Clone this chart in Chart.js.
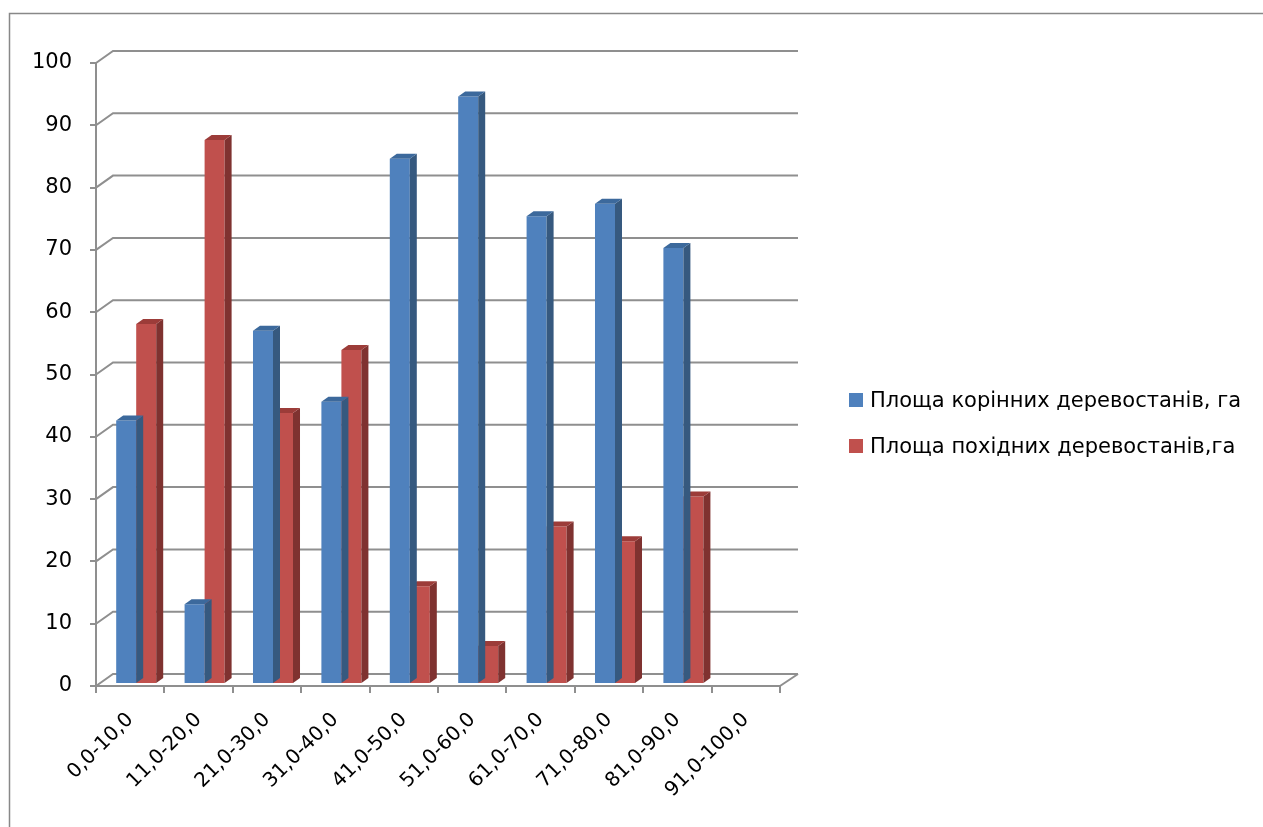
<!DOCTYPE html>
<html lang="uk">
<head>
<meta charset="UTF-8">
<title>Площа деревостанів</title>
<script src="https://cdn.jsdelivr.net/npm/chart.js"></script>
<style>
    body { margin: 0; background: #fff; }
    #wrap { position: relative; width: 1263px; height: 827px; }
    #legend { position: absolute; left: 849px; top: 386px; font-family: 'DejaVu Sans', sans-serif; font-size: 21px; color: #000; }
    #legend .item { display: flex; align-items: center; height: 28px; margin-bottom: 18px; white-space: nowrap; }
    #legend .box { width: 14px; height: 14px; margin-right: 7px; flex: none; }
</style>
</head>
<body>
<div id="wrap">
    <canvas id="areaChart" width="1263" height="827"></canvas>
    <div id="legend"></div>
</div>
<script>
// values
const categories = ['0,0-10,0', '11,0-20,0', '21,0-30,0', '31,0-40,0', '41,0-50,0',
                    '51,0-60,0', '61,0-70,0', '71,0-80,0', '81,0-90,0', '91,0-100,0'];
const rootArea = [42.3, 12.8, 56.7, 45.3, 84.3, 94.3, 75.1, 77.1, 70.0, null];
const derivedArea = [57.8, 87.3, 43.5, 53.6, 15.7, 6.1, 25.3, 22.9, 30.1, null];
const seriesNames = ['Площа корінних деревостанів, га', 'Площа похідних деревостанів,га'];
const yTicks = [0, 10, 20, 30, 40, 50, 60, 70, 80, 90, 100];

const FONT = "'DejaVu Sans', sans-serif";
const GRID = '#8f8f8f';
const WALL_DX = 17, WALL_DY = -12;   // back wall offset
const BAR_DX = 7, BAR_DY = -5;       // bar depth
const SHIFT_X = 6, SHIFT_Y = -2;     // bars stand mid-depth
const faces = [
    { side: '#36597f', top: '#3c699c' },
    { side: '#7f3230', top: '#9c3c39' }
];

// fake 3d: back wall grid, bar side and top faces, outer frame
const depth3d = {
    id: 'depth3d',
    beforeDraw(chart) {
        const ctx = chart.ctx;
        ctx.save();
        ctx.strokeStyle = '#888';
        ctx.lineWidth = 1.5;
        ctx.strokeRect(9.5, 13.5, 3000, 3000);
        ctx.restore();
    },
    beforeDatasetsDraw(chart) {
        const ctx = chart.ctx, a = chart.chartArea, y = chart.scales.y;
        ctx.save();
        ctx.strokeStyle = GRID;
        ctx.lineWidth = 2;
        yTicks.forEach(v => {
            const py = y.getPixelForValue(v);
            ctx.beginPath();
            ctx.moveTo(a.left, py);
            ctx.lineTo(a.left + WALL_DX, py + WALL_DY);
            ctx.lineTo(a.right + WALL_DX + 1, py + WALL_DY);
            ctx.stroke();
        });
        const p0 = y.getPixelForValue(0);
        ctx.beginPath();
        ctx.moveTo(a.right, p0);
        ctx.lineTo(a.right + WALL_DX + 1, p0 + WALL_DY);
        ctx.stroke();
        ctx.restore();
        ctx.save();
        ctx.translate(SHIFT_X, SHIFT_Y);
    },
    afterDatasetDraw(chart, args) {
        const ctx = chart.ctx, f = faces[args.index];
        const values = chart.data.datasets[args.index].data;
        args.meta.data.forEach((bar, i) => {
            if (values[i] == null) return;
            const l = bar.x - bar.width / 2, r = bar.x + bar.width / 2;
            ctx.fillStyle = f.side;
            ctx.beginPath();
            ctx.moveTo(r, bar.y);
            ctx.lineTo(r + BAR_DX, bar.y + BAR_DY);
            ctx.lineTo(r + BAR_DX, bar.base + BAR_DY);
            ctx.lineTo(r, bar.base);
            ctx.closePath();
            ctx.fill();
            ctx.fillStyle = f.top;
            ctx.beginPath();
            ctx.moveTo(l, bar.y);
            ctx.lineTo(l + BAR_DX, bar.y + BAR_DY);
            ctx.lineTo(r + BAR_DX, bar.y + BAR_DY);
            ctx.lineTo(r, bar.y);
            ctx.closePath();
            ctx.fill();
        });
    },
    afterDatasetsDraw(chart) {
        chart.ctx.restore();
    }
};

const chart = new Chart(document.getElementById('areaChart'), {
    type: 'bar',
    data: {
        labels: categories,
        datasets: [{
            label: seriesNames[0],
            data: rootArea,
            backgroundColor: '#4f81bd',
            categoryPercentage: 0.585,
            barPercentage: 1.0
        }, {
            label: seriesNames[1],
            data: derivedArea,
            backgroundColor: '#c0504d',
            categoryPercentage: 0.585,
            barPercentage: 1.0
        }]
    },
    options: {
        responsive: false,
        animation: false,
        layout: { padding: { top: 63, bottom: 0, left: 0, right: 483 } },
        plugins: {
            tooltip: { enabled: false },
            legend: { display: false }
        },
        scales: {
            x: {
                grid: { offset: true, drawOnChartArea: false, drawTicks: true, tickLength: 7, color: GRID, lineWidth: 2 },
                border: { display: true, color: GRID, width: 2 },
                ticks: { minRotation: 45, maxRotation: 45, padding: 15, color: '#000', font: { family: FONT, size: 20 } },
                afterFit: s => { s.height = 141; }
            },
            y: {
                min: 0,
                max: 100,
                grid: { drawOnChartArea: false, drawTicks: true, tickLength: 6, color: GRID, lineWidth: 2 },
                border: { display: true, color: GRID, width: 2 },
                ticks: { stepSize: 10, padding: 18, color: '#000', font: { family: FONT, size: 21 } },
                afterFit: s => { s.width = 96; }
            }
        }
    },
    plugins: [depth3d]
});

// html legend on the right, built from the chart's datasets
const legendEl = document.getElementById('legend');
chart.data.datasets.forEach(ds => {
    const item = document.createElement('div');
    item.className = 'item';
    const box = document.createElement('span');
    box.className = 'box';
    box.style.background = ds.backgroundColor;
    const text = document.createElement('span');
    text.textContent = ds.label;
    item.appendChild(box);
    item.appendChild(text);
    legendEl.appendChild(item);
});
</script>
</body>
</html>
